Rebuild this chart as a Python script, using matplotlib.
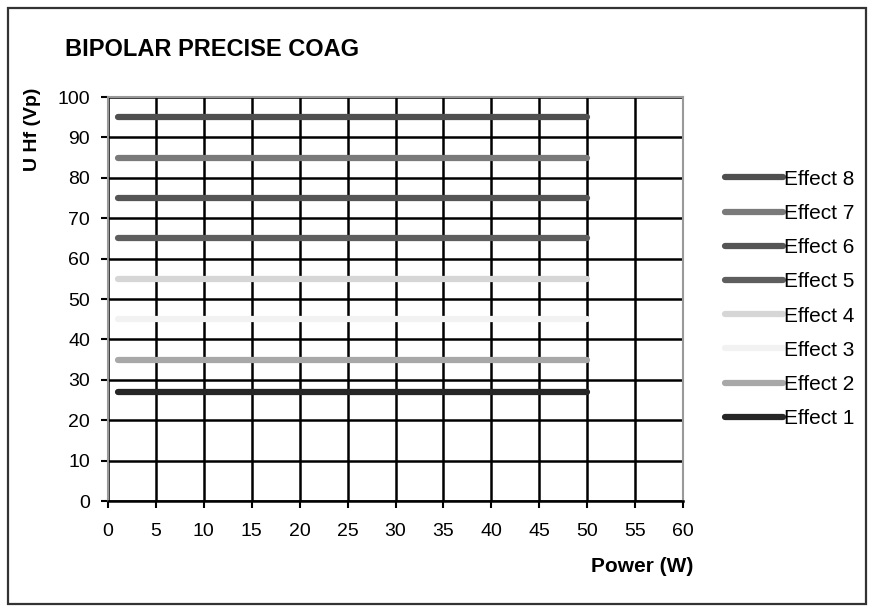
import matplotlib as mpl
mpl.use('Agg')
import matplotlib.pyplot as plt
from matplotlib.patches import Rectangle

# data
power_start = 1
power_end = 50
effects = ['Effect 1', 'Effect 2', 'Effect 3', 'Effect 4',
           'Effect 5', 'Effect 6', 'Effect 7', 'Effect 8']
voltage = [27, 35, 45, 55, 65, 75, 85, 95]
colors = ['#262626', '#a8a8a8', '#f2f2f2', '#d6d6d6',
          '#5e5e5e', '#555555', '#7a7a7a', '#4f4f4f']
x_ticks = list(range(0, 65, 5))
y_ticks = list(range(0, 110, 10))

plt.rcParams['font.family'] = ['Liberation Sans', 'DejaVu Sans']

fig = plt.figure(figsize=(8.7, 6.08), dpi=100)
ax = fig.add_axes([108 / 870, 1 - 501 / 608, 575 / 870, 404 / 608])

# outer frame
fig.patches.append(Rectangle((8 / 870, 4 / 608), 858 / 870, 596 / 608,
                             transform=fig.transFigure, fill=False,
                             edgecolor='#333333', linewidth=1.6))

lines = []
for name, v, c in zip(effects, voltage, colors):
    ln, = ax.plot([power_start, power_end], [v, v], color=c, linewidth=4.5,
                  solid_capstyle='round', label=name, zorder=3)
    lines.append(ln)

ax.set_xlim(0, 60)
ax.set_ylim(0, 100)
ax.set_xticks(x_ticks)
ax.set_yticks(y_ticks)
ax.grid(True, color='black', linewidth=1.8, zorder=1)
ax.set_axisbelow(True)
ax.tick_params(direction='out', length=5, width=1.5, color='black',
               labelsize=14, pad=8)
ax.tick_params(axis='x', pad=11)
for side in ['top', 'right', 'left']:
    ax.spines[side].set_color('#999999')
    ax.spines[side].set_linewidth(1.5)
ax.spines['bottom'].set_color('black')
ax.spines['bottom'].set_linewidth(1.8)

fig.text(65 / 870, 1 - 50 / 608, 'BIPOLAR PRECISE COAG', fontsize=17,
         fontweight='bold', va='center', ha='left')
fig.text(33 / 870, 1 - 129 / 608, 'U Hf (Vp)', fontsize=14, fontweight='bold',
         rotation=90, va='center', ha='center')
fig.text(693 / 870, 1 - 567 / 608, 'Power (W)', fontsize=15, fontweight='bold',
         va='center', ha='right')

leg = fig.legend(lines[::-1], effects[::-1], loc='upper left',
                 bbox_to_anchor=(706 / 870, 1 - 151 / 608), frameon=False,
                 fontsize=15, handlelength=2.8, handletextpad=0.05,
                 labelspacing=0.73)

plt.savefig('out.png', dpi=100)
